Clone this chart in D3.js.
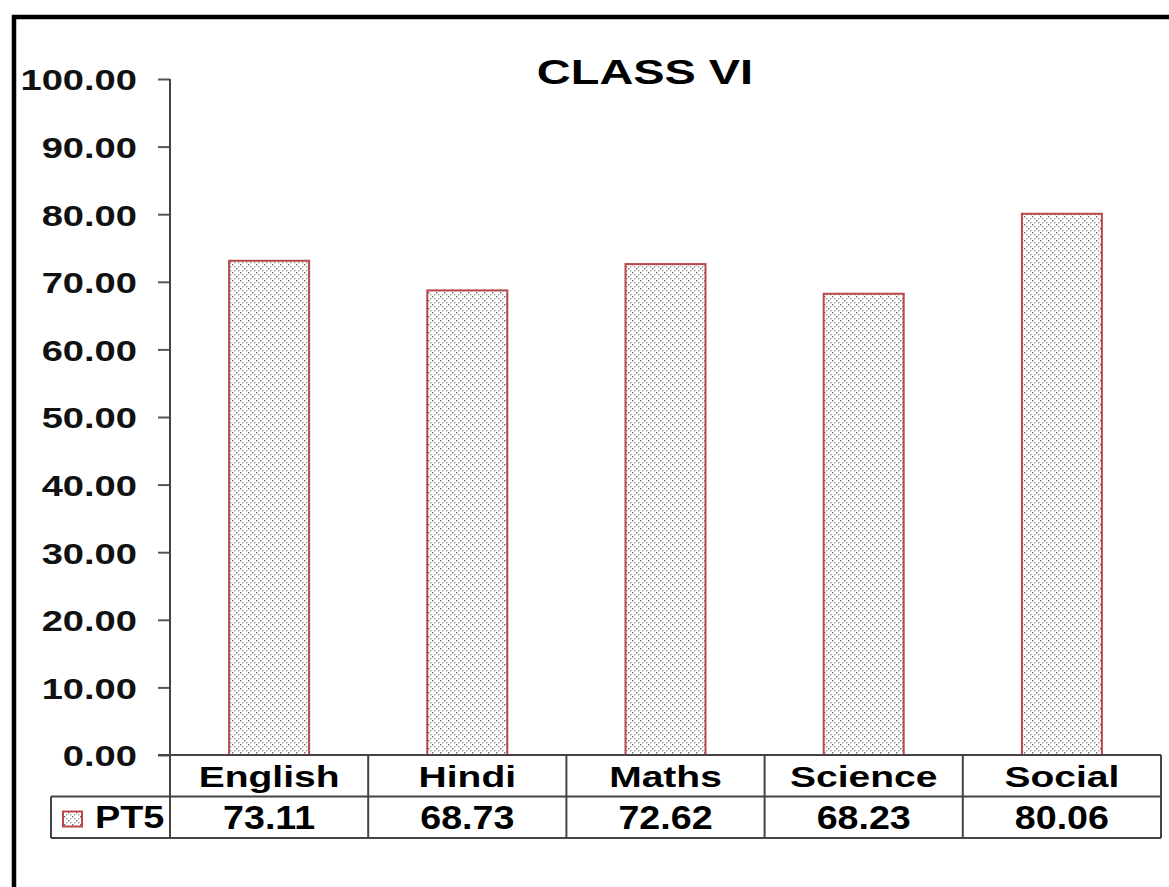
<!DOCTYPE html>
<html>
<head>
<meta charset="utf-8">
<script src="https://cdn.jsdelivr.net/npm/d3@7.9.0/dist/d3.min.js"></script>
<style>
  body { margin: 0; background: #fff; }
  svg { display: block; font-family: "Liberation Sans", Arial, sans-serif; }
</style>
</head>
<body>
<svg id="chart" width="1169" height="887"></svg>
<script>
const subjects = ['English', 'Hindi', 'Maths', 'Science', 'Social'];
const pt5 = [73.11, 68.73, 72.62, 68.23, 80.06];
const seriesName = 'PT5';
const yTicks = [0, 10, 20, 30, 40, 50, 60, 70, 80, 90, 100];

const svg = d3.select('#chart');

// the source text looks stretched sideways, so scale x on each label
function wide(sel, x, y, sx) {
  sel.attr('x', 0).attr('y', 0)
    .attr('transform', `translate(${x},${y}) scale(${sx},1)`);
}

// dotted fill like the spreadsheet pattern
const defs = svg.append('defs');
const pat = defs.append('pattern')
  .attr('id', 'dots')
  .attr('width', 8).attr('height', 8)
  .attr('patternUnits', 'userSpaceOnUse');
pat.append('rect').attr('width', 8).attr('height', 8).attr('fill', '#fff');
[[0, 0], [4, 4], [2, 2], [6, 6], [2, 6], [6, 2]].forEach(([cx, cy], i) => {
  pat.append('rect')
    .attr('x', cx).attr('y', cy).attr('width', 1.4).attr('height', 1.4)
    .attr('fill', i < 2 ? '#666' : '#999');
});

// outer frame (only top and left visible)
svg.append('path')
  .attr('d', 'M14,890 L14,17 L1175,17')
  .attr('fill', 'none')
  .attr('stroke', '#000')
  .attr('stroke-width', 4.5);

const plotLeft = 170, plotRight = 1161, plotTop = 79, plotBottom = 755;

const x = d3.scaleBand().domain(subjects).range([plotLeft, plotRight]).paddingInner(0).paddingOuter(0);
const y = d3.scaleLinear().domain([0, 100]).range([plotBottom, plotTop]);

// title
svg.append('text')
  .attr('text-anchor', 'middle')
  .attr('font-size', 35).attr('font-weight', 'bold')
  .text('CLASS VI')
  .call(wide, 645, 84, 1.34);

// bars
const barW = 80;
svg.selectAll('rect.bar')
  .data(subjects)
  .join('rect')
  .attr('class', 'bar')
  .attr('x', (d) => x(d) + x.bandwidth() / 2 - barW / 2)
  .attr('y', (d, i) => y(pt5[i]))
  .attr('width', barW)
  .attr('height', (d, i) => y(0) - y(pt5[i]))
  .attr('fill', 'url(#dots)')
  .attr('stroke', '#b9474a')
  .attr('stroke-width', 2);

// y axis
const yAxis = d3.axisLeft(y)
  .tickValues(yTicks)
  .tickSize(12)
  .tickFormat(d3.format('.2f'));
const gy = svg.append('g').attr('transform', `translate(${plotLeft},0)`).call(yAxis);
gy.select('.domain').remove();
gy.selectAll('.tick line').attr('stroke', '#555').attr('stroke-width', 2);
gy.selectAll('.tick text')
  .attr('font-size', 30).attr('font-weight', 'bold').attr('fill', '#111')
  .attr('font-family', '"Liberation Sans", Arial, sans-serif')
  .attr('dy', '0.36em')
  .call(wide, -33, 0, 1.27);

// data table
const rowH = 41.5;
const row1 = plotBottom, row2 = plotBottom + rowH, row3 = plotBottom + 2 * rowH;
const legLeft = 51;
const lines = svg.append('g').attr('stroke', '#444').attr('stroke-width', 2);

// axis line goes through the table
lines.append('line').attr('x1', plotLeft).attr('x2', plotLeft).attr('y1', plotTop).attr('y2', row3);
lines.append('line').attr('x1', plotLeft - 12).attr('x2', plotRight).attr('y1', row1).attr('y2', row1);
lines.append('line').attr('x1', legLeft).attr('x2', plotRight).attr('y1', row2).attr('y2', row2);
lines.append('line').attr('x1', legLeft).attr('x2', plotRight).attr('y1', row3).attr('y2', row3);
lines.append('line').attr('x1', legLeft).attr('x2', legLeft).attr('y1', row2).attr('y2', row3);
subjects.forEach((s) => {
  const xe = x(s) + x.bandwidth();
  lines.append('line').attr('x1', xe).attr('x2', xe).attr('y1', row1).attr('y2', row3);
});

subjects.forEach((s) => {
  svg.append('text')
    .attr('text-anchor', 'middle')
    .attr('font-size', 30).attr('font-weight', 'bold')
    .text(s)
    .call(wide, x(s) + x.bandwidth() / 2, row1 + 32, 1.3);
});

pt5.forEach((v, i) => {
  svg.append('text')
    .attr('text-anchor', 'middle')
    .attr('font-size', 33).attr('font-weight', 'bold')
    .text(d3.format('.2f')(v))
    .call(wide, x(subjects[i]) + x.bandwidth() / 2, row2 + 32, 1.14);
});

// legend key in the table
svg.append('rect')
  .attr('x', 63).attr('y', row2 + 15).attr('width', 19).attr('height', 15)
  .attr('fill', 'url(#dots)')
  .attr('stroke', '#b9474a').attr('stroke-width', 2);
svg.append('text')
  .attr('font-size', 31).attr('font-weight', 'bold')
  .text(seriesName)
  .call(wide, 95, row2 + 31, 1.22);
</script>
</body>
</html>
